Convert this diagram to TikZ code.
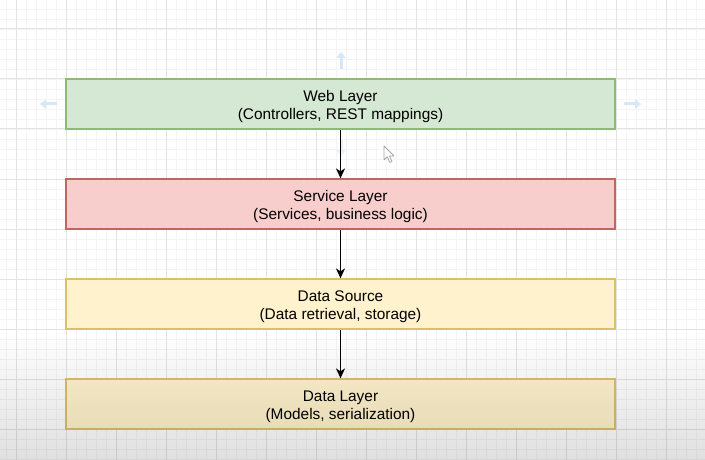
\documentclass[tikz,border=0pt]{standalone}
\usepackage{fontspec}
\setmainfont{Liberation Sans}
\usetikzlibrary{arrows.meta,fadings}
\definecolor{gfill}{HTML}{D5E8D4}\definecolor{gline}{HTML}{8DBA74}
\definecolor{rfill}{HTML}{F8CECC}\definecolor{rline}{HTML}{C06560}
\definecolor{yfill}{HTML}{FFF2CC}\definecolor{yline}{HTML}{DBC06A}
\definecolor{minorgrid}{HTML}{F4F4F4}\definecolor{majorgrid}{HTML}{E3E3E3}
\definecolor{hover}{HTML}{D6E8F7}
\newcommand\layertext[2]{\raisebox{-15.5pt}[0pt][0pt]{\parbox[b]{540pt}{\centering #1\\#2}}}
\tikzset{
  layer/.style={draw, line width=1.2pt, minimum width=549pt, minimum height=50pt,
    inner sep=0pt, font=\fontsize{15.4}{18}\selectfont},
  flow/.style={draw=black, line width=1.4pt, -{Stealth[length=10pt,width=9pt,inset=3pt]}},
  hoverarrow/.style={draw=hover, line width=3pt, -{Triangle[length=6pt,width=9pt]}}
}
\begin{document}
\begin{tikzpicture}[x=1pt,y=-1pt]
\useasboundingbox (0,0) rectangle (705,460);
\fill[white] (0,0) rectangle (705,460);
% grid
\foreach \i in {6,16,...,705} \draw[minorgrid, line width=0.8pt] (\i,0) -- (\i,460);
\foreach \j in {9,19,...,460} \draw[minorgrid, line width=0.8pt] (0,\j) -- (705,\j);
\foreach \i in {16,66,...,705} \draw[majorgrid, line width=1pt] (\i,0) -- (\i,460);
\foreach \j in {29,79,...,460} \draw[majorgrid, line width=1pt] (0,\j) -- (705,\j);
% layers
\node[layer, fill=gfill, draw=gline] (web) at (340.5,104) {\layertext{Web Layer}{(Controllers, REST mappings)}};
\node[layer, fill=rfill, draw=rline] (svc) at (340.5,204) {\layertext{Service Layer}{(Services, business logic)}};
\node[layer, fill=yfill, draw=yline] (src) at (340.5,304) {\layertext{Data Source}{(Data retrieval, storage)}};
\node[layer, fill=yfill, draw=yline] (dat) at (340.5,404) {\layertext{Data Layer}{(Models, serialization)}};
% hover arrows (editor overlay)
\coordinate (hu1) at (341,69); \coordinate (hu2) at (341,52);
\coordinate (hl1) at (57,104); \coordinate (hl2) at (40,104);
\coordinate (hr1) at (624,104); \coordinate (hr2) at (641,104);
\coordinate (hd1) at (341,140); \coordinate (hd2) at (341,156);
\draw[hoverarrow] (hu1) -- (hu2);
\draw[hoverarrow] (hl1) -- (hl2);
\draw[hoverarrow] (hr1) -- (hr2);
\draw[hoverarrow, draw=hover!60] (hd1) -- (hd2);
% connectors
\draw[flow] (web) -- (svc);
\draw[flow] (svc) -- (src);
\draw[flow] (src) -- (dat);
% mouse cursor
\coordinate (cur) at (384,146);
\draw[fill=white, draw=gray!70, line width=0.8pt, line join=round]
  (cur) -- ++(0,14) -- ++(3.2,-3.2) -- ++(2.6,5.6) -- ++(2.2,-1) -- ++(-2.6,-5.4) -- ++(4.6,0) -- cycle;
% bottom shading
\fill[black, fill opacity=0.12, path fading=north] (0,330) rectangle (705,460);
\end{tikzpicture}
\end{document}
